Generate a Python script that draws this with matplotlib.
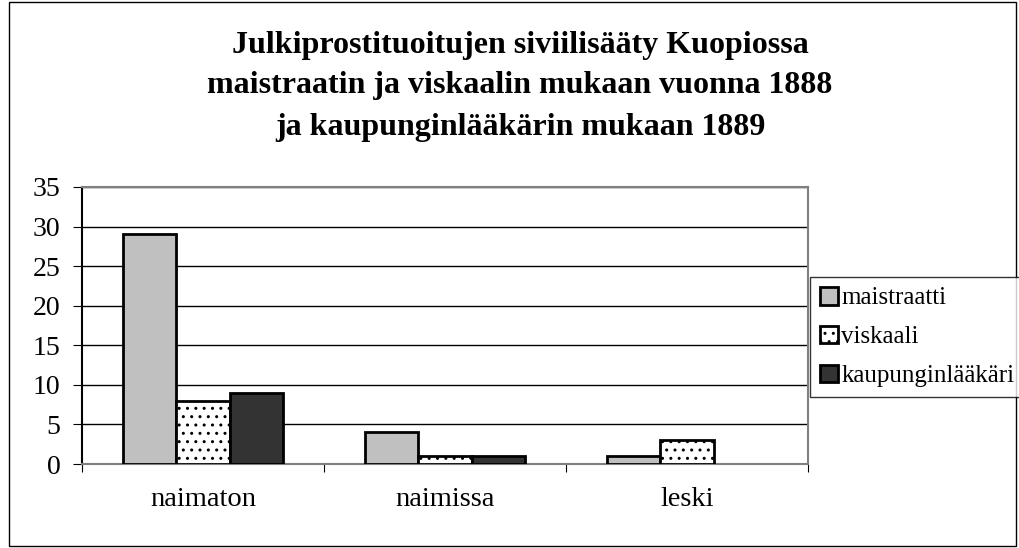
import matplotlib
matplotlib.use("Agg")
import matplotlib.pyplot as plt
import numpy as np
from matplotlib.patches import Rectangle

categories = ["naimaton", "naimissa", "leski"]
series = ["maistraatti", "viskaali", "kaupunginlääkäri"]
maistraatti = [29, 4, 1]
viskaali = [8, 1, 3]
kaupunginlaakari = [9, 1, 0]
yticks = [0, 5, 10, 15, 20, 25, 30, 35]

plt.rcParams['font.family'] = ['Liberation Serif', 'DejaVu Serif']
plt.rcParams['hatch.linewidth'] = 1.0

fig = plt.figure(figsize=(10.19, 5.48), dpi=100)
ax = fig.add_axes([82/1019, 1-464/548, (808-82)/1019, (464-187)/548])

x = np.arange(len(categories))
w = 0.22
vals = [maistraatti, viskaali, kaupunginlaakari]
colors = ["#c0c0c0", "white", "#333333"]
hatches = [None, "..", None]
bars = []
for i, (v, c, h) in enumerate(zip(vals, colors, hatches)):
    b = ax.bar(x + (i - 1) * w, v, w, color=c, edgecolor="black", linewidth=2,
               hatch=h, label=series[i], zorder=3)
    for rect, val in zip(b, v):
        if val == 0:
            rect.set_visible(False)
    bars.append(b)

ax.set_xlim(-0.5, 2.5)
ax.set_ylim(0, 35)
ax.set_yticks(yticks)
ax.set_yticklabels([str(t) for t in yticks], fontsize=20)
ax.yaxis.grid(True, color="black", linewidth=1)
ax.set_axisbelow(True)
ax.set_xticks([-0.5, 0.5, 1.5, 2.5])
ax.set_xticklabels([])
ax.tick_params(axis="x", length=6, color="black", direction="out")
ax.tick_params(axis="y", length=6.5, color="black", direction="out", pad=9)
for lab_x, lab in zip(x, categories):
    ax.text(lab_x, -4.5, lab, ha="center", va="center", fontsize=20.5)
ax.spines["left"].set_color("black")
ax.spines["bottom"].set_color("#808080")
ax.spines["top"].set_color("#808080")
ax.spines["right"].set_color("#808080")
for s in ax.spines.values():
    s.set_linewidth(1.5)

title_lines = ["Julkiprostituoitujen siviilisääty Kuopiossa",
               "maistraatin ja viskaalin mukaan vuonna 1888",
               "ja kaupunginlääkärin mukaan 1889"]
for ty, t in zip([45, 86, 128], title_lines):
    fig.text(520/1019, 1-ty/548, t, ha="center", va="center",
             fontsize=23, fontweight="bold")

leg = fig.legend(handles=[b for b in bars], labels=series,
                 loc="upper left", bbox_to_anchor=(810/1019, 1-277/548),
                 fontsize=18, frameon=True, fancybox=False, edgecolor="black",
                 handlelength=0.7, handleheight=0.7, handletextpad=0.15,
                 labelspacing=0.65, borderpad=0.4, borderaxespad=0)
leg.get_frame().set_linewidth(1)

fig.patches.append(Rectangle((9/1019, 2/548), 1007/1019, 544/548,
                             transform=fig.transFigure, fill=False,
                             edgecolor="black", linewidth=1))

fig.savefig("out.png", dpi=100)
